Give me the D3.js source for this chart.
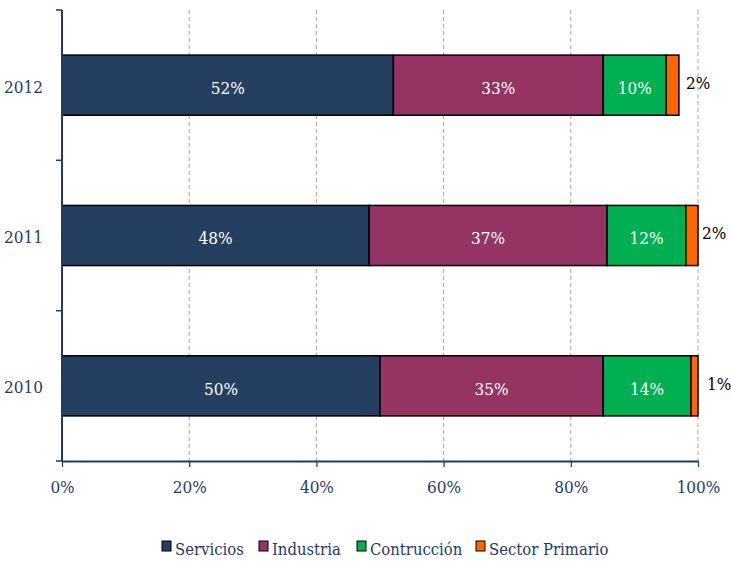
<!DOCTYPE html>
<html><head><meta charset="utf-8">
<script src="https://cdn.jsdelivr.net/npm/d3@7/dist/d3.min.js"></script>
<style>body{margin:0;background:#fff}svg{display:block}</style>
</head><body><svg id="c" width="731" height="565"></svg>
<script>
const years = ["2012", "2011", "2010"];
const seriesNames = ["Servicios", "Industria", "Contrucción", "Sector Primario"];
const servicios = [52.1, 48.3, 50.0];
const industria = [33.0, 37.4, 35.1];
const construccion = [9.9, 12.4, 13.8];
const primario = [2.0, 1.9, 1.1];
const labelsServicios = ["52%", "48%", "50%"];
const labelsIndustria = ["33%", "37%", "35%"];
const labelsConstruccion = ["10%", "12%", "14%"];
const labelsPrimario = ["2%", "2%", "1%"];
const xTicks = [0, 20, 40, 60, 80, 100];
const colors = ["#243f60", "#953462", "#00b050", "#ff6600"];

const seriesVals = [servicios, industria, construccion, primario];
const seriesLabels = [labelsServicios, labelsIndustria, labelsConstruccion, labelsPrimario];
const font = "'DejaVu Serif Condensed', 'DejaVu Serif', serif";
const axisColor = "#1f3b66";

const svg = d3.select("#c");
const x = d3.scaleLinear().domain([0, 100]).range([62, 698]);
const y = d3.scaleBand().domain(years).range([10, 461]).paddingInner(0.6).paddingOuter(0.3);

// gridlines
svg.append("g").selectAll("line").data(xTicks.filter(d => d > 0)).join("line")
  .attr("x1", d => x(d)).attr("x2", d => x(d)).attr("y1", 10).attr("y2", 461)
  .attr("stroke", "#a6a6a6").attr("stroke-width", 1).attr("stroke-dasharray", "4,3");

// bars
const rows = years.map((yr, i) => {
  let acc = 0;
  return seriesVals.map((s, k) => { const o = {yr, k, x0: acc, x1: acc + s[i], label: seriesLabels[k][i]}; acc += s[i]; return o; });
});
const flat = rows.flat();
svg.append("g").selectAll("rect").data(flat).join("rect")
  .attr("x", d => x(d.x0)).attr("width", d => x(d.x1) - x(d.x0))
  .attr("y", d => y(d.yr)).attr("height", y.bandwidth())
  .attr("fill", d => colors[d.k]).attr("stroke", "#000").attr("stroke-width", 1.5);

// inside labels
svg.append("g").selectAll("text").data(flat.filter(d => d.k < 3)).join("text")
  .attr("x", d => (x(d.x0) + x(d.x1)) / 2).attr("y", d => y(d.yr) + y.bandwidth() / 2 + 3)
  .attr("dy", "0.35em").attr("text-anchor", "middle")
  .attr("fill", "#fff").style("font-family", font).style("font-size", "17px")
  .text(d => d.label);
// outside labels
const outOffsets = [7, 4, 9];
svg.append("g").selectAll("text").data(flat.filter(d => d.k === 3)).join("text")
  .attr("x", (d, i) => x(d.x1) + outOffsets[i]).attr("y", d => y(d.yr) + y.bandwidth() / 2 - 2)
  .attr("dy", "0.35em").attr("text-anchor", "start")
  .attr("fill", "#000").style("font-family", font).style("font-size", "17px")
  .text(d => d.label);

// x axis
const xAxis = d3.axisBottom(x).tickValues(xTicks).tickFormat(d => d + "%").tickSize(6).tickSizeOuter(0);
const gx = svg.append("g").attr("transform", "translate(0,461)").call(xAxis);
gx.select(".domain").attr("stroke", axisColor).attr("stroke-width", 2);
gx.selectAll(".tick line").attr("stroke", axisColor).attr("stroke-width", 1.2);
gx.selectAll("text").attr("fill", axisColor).attr("dy", "1.35em").style("font-family", font).style("font-size", "17px");

// y axis
const yAxis = d3.axisLeft(y).tickSize(0);
const gy = svg.append("g").attr("transform", "translate(62,0)").call(yAxis);
gy.select(".domain").attr("stroke", axisColor).attr("stroke-width", 2).attr("d", "M0,10V461");
gy.selectAll(".tick text").attr("x", -19).attr("dy", "0.45em").attr("fill", axisColor).style("font-family", font).style("font-size", "17px");
// y boundary ticks
const bounds = [10, 160.3, 310.7, 461];
svg.append("g").selectAll("line").data(bounds).join("line")
  .attr("x1", 56).attr("x2", 62).attr("y1", d => d).attr("y2", d => d)
  .attr("stroke", axisColor).attr("stroke-width", 1.5);

// legend
const legendX = [162, 259, 357, 476];
const lg = svg.append("g").selectAll("g").data(seriesNames).join("g")
  .attr("transform", (d, i) => `translate(${legendX[i]},550)`);
lg.append("rect").attr("x", 0).attr("y", -9).attr("width", 9).attr("height", 10)
  .attr("fill", (d, i) => colors[i]).attr("stroke", "#000").attr("stroke-width", 1);
lg.append("text").attr("x", 13).attr("y", 0).attr("dy", "0.3em")
  .attr("fill", axisColor).style("font-family", font).style("font-size", "16.5px").text(d => d);
</script></body></html>
